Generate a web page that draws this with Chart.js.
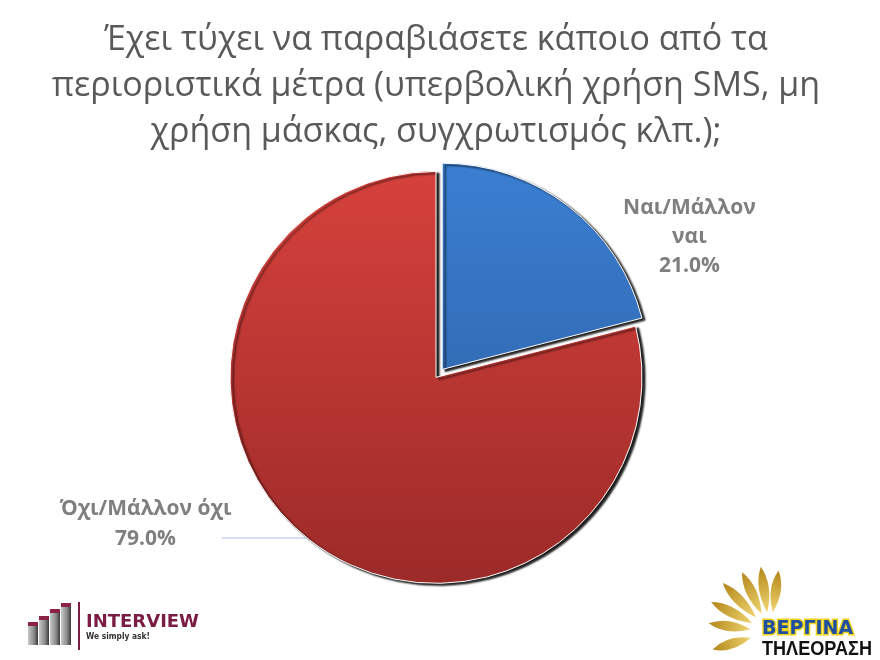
<!DOCTYPE html>
<html>
<head>
<meta charset="utf-8">
<script src="https://cdn.jsdelivr.net/npm/chart.js@4.4.0/dist/chart.umd.min.js"></script>
<style>
  body { margin: 0; background: #fff; }
  #wrap { width: 880px; height: 660px; }
</style>
</head>
<body>
<div id="wrap"><canvas id="myChart" width="880" height="660"></canvas></div>
<script>
const titleLines = ["Έχει τύχει να παραβιάσετε κάποιο από τα", "περιοριστικά μέτρα (υπερβολική χρήση SMS, μη", "χρήση μάσκας, συγχρωτισμός κλπ.);"];
const labels = ["Ναι/Μάλλον ναι", "Όχι/Μάλλον όχι"];
const values = [21.0, 79.0];
const labelLines = [["Ναι/Μάλλον", "ναι", "21.0%"], ["Όχι/Μάλλον όχι", "79.0%"]];

const ctx = document.getElementById("myChart").getContext("2d");

function sliceFill(c) {
    const area = c.chart.chartArea;
    if (!area) return c.dataIndex === 0 ? "#3673c0" : "#b93532";
    const g = c.chart.ctx.createLinearGradient(0, 170, 0, 590);
    if (c.dataIndex === 0) {
        g.addColorStop(0, "#3b7fd2");
        g.addColorStop(1, "#2a5a9c");
    } else {
        g.addColorStop(0, "#d6413c");
        g.addColorStop(1, "#9b2a28");
    }
    return g;
}

// dark shadow on the lower right edge of the slices
const shadowPlugin = {
    id: "shadow",
    beforeDatasetsDraw(chart) {
        const c = chart.ctx;
        c.save();
        c.shadowColor = "rgba(0,0,0,0.9)";
        c.shadowBlur = 2;
        c.shadowOffsetX = 3;
        c.shadowOffsetY = 2;
    },
    afterDatasetsDraw(chart) {
        chart.ctx.restore();
    }
};

const labelPlugin = {
    id: "sliceLabels",
    afterDraw(chart) {
        const c = chart.ctx;
        const arcs = chart.getDatasetMeta(0).data;
        c.save();
        c.fillStyle = "#7f7f7f";
        c.font = "bold 21px 'Open Sans', sans-serif";
        c.textAlign = "center";
        c.textBaseline = "middle";
        // blue slice label, up right of the pie
        let a = arcs[0];
        let r = a.outerRadius;
        let x = a.x + r * 1.23;
        let y = a.y - r * 0.82;
        labelLines[0].forEach((t, i) => c.fillText(t, x, y + i * 29));
        // red slice label, down left, with leader line
        a = arcs[1];
        r = a.outerRadius;
        x = a.x - r * 1.41;
        y = a.y + r * 0.64;
        labelLines[1].forEach((t, i) => c.fillText(t, x, y + i * 30));
        const ly = a.y + r * 0.78;
        const lx = a.x - Math.sqrt(r * r - (ly - a.y) * (ly - a.y));
        c.strokeStyle = "#a9c3e4";
        c.lineWidth = 1;
        c.beginPath();
        c.moveTo(a.x - r * 1.04, ly);
        c.lineTo(lx, ly);
        c.stroke();
        c.restore();
    }
};

const logoPlugin = {
    id: "logos",
    afterDraw(chart) {
        const c = chart.ctx;
        c.save();
        // INTERVIEW logo
        const bars = [[28, 622], [39, 616], [50, 609], [61, 603]];
        bars.forEach(([bx, top]) => {
            const g = c.createLinearGradient(bx, 0, bx + 10, 0);
            g.addColorStop(0, "#c8c8c8");
            g.addColorStop(0.6, "#8a8a8a");
            g.addColorStop(1, "#3a3a3a");
            c.fillStyle = g;
            c.fillRect(bx, top + 3, 10, 645 - top - 3);
            c.fillStyle = "#8a2346";
            c.fillRect(bx, top, 10, 4);
        });
        c.fillStyle = "#7a1c44";
        c.fillRect(78, 602, 2, 48);
        c.font = "bold 18px 'DejaVu Sans', sans-serif";
        c.textBaseline = "alphabetic";
        c.fillText("INTERVIEW", 86, 627, 127);
        c.fillStyle = "#333";
        c.font = "bold 9px 'DejaVu Sans', sans-serif";
        c.fillText("We simply ask!", 86, 639, 64);

        // ΒΕΡΓΙΝΑ logo: sun rays
        const cx = 770, cy = 632;
        const rays = [[-172, 62], [-153, 66], [-134, 68], [-115, 66], [-98, 66], [-82, 62], [163, 60]];
        rays.forEach(([deg, len]) => {
            const ang = deg * Math.PI / 180;
            const cos = Math.cos(ang), sin = Math.sin(ang);
            const nx = -sin, ny = cos;
            const g = c.createLinearGradient(cx + cos * 15, cy + sin * 15, cx + cos * len, cy + sin * len);
            g.addColorStop(0, "#f7de7a");
            g.addColorStop(1, "#b3861a");
            c.fillStyle = g;
            c.beginPath();
            c.moveTo(cx + cos * 20, cy + sin * 20);
            c.quadraticCurveTo(cx + cos * (len * 0.7) + nx * 10, cy + sin * (len * 0.7) + ny * 10, cx + cos * len, cy + sin * len);
            c.quadraticCurveTo(cx + cos * (len * 0.7) - nx * 10, cy + sin * (len * 0.7) - ny * 10, cx + cos * 20, cy + sin * 20);
            c.fill();
        });
        c.font = "bold 19px 'DejaVu Sans', sans-serif";
        c.lineWidth = 3;
        c.strokeStyle = "#f2d31c";
        c.strokeText("ΒΕΡΓΙΝΑ", 762, 634, 108);
        c.fillStyle = "#1f4fa0";
        c.fillText("ΒΕΡΓΙΝΑ", 762, 634, 108);
        c.fillStyle = "#111";
        c.font = "bold 20px 'Liberation Sans', sans-serif";
        c.fillText("ΤΗΛΕΟΡΑΣΗ", 762, 655, 110);
        c.restore();
    }
};

new Chart(ctx, {
    type: "pie",
    data: {
        labels: labels,
        datasets: [{
            data: values,
            backgroundColor: sliceFill,
            borderColor: "#ffffff",
            borderWidth: 1,
            offset: [40, 0],
            radius: 206
        }]
    },
    options: {
        responsive: false,
        animation: false,
        layout: { padding: { top: 0, bottom: 60, left: 0, right: 8 } },
        plugins: {
            legend: { display: false },
            tooltip: { enabled: false },
            title: {
                display: true,
                text: titleLines,
                color: "#595959",
                font: { family: "'Open Sans', sans-serif", size: 34, weight: "normal", lineHeight: 1.34 },
                padding: { top: 18, bottom: 0 }
            }
        }
    },
    plugins: [shadowPlugin, labelPlugin, logoPlugin]
});
</script>
</body>
</html>
